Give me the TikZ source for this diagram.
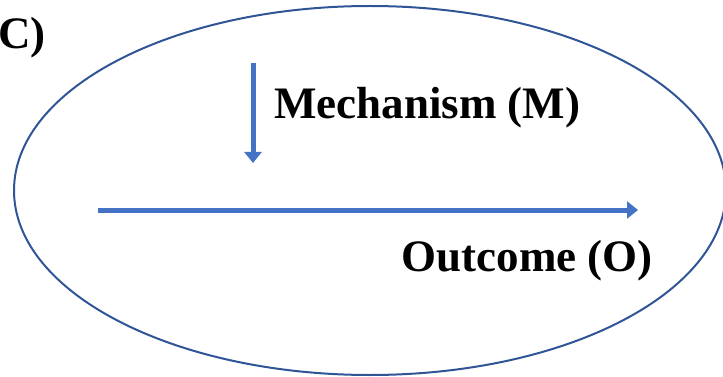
\documentclass[tikz,border=0pt]{standalone}
\usepackage{fontspec}
\setmainfont{Liberation Serif}
\usetikzlibrary{arrows.meta}
\definecolor{ringblue}{HTML}{2F5597}
\definecolor{arrowblue}{HTML}{4472C4}
\tikzset{
  lbl/.style={font=\bfseries\fontsize{45}{48}\selectfont, inner sep=0pt, text=black},
  flow/.style={draw=arrowblue, line width=5pt, -{Triangle[width=17pt,length=11pt]}}
}
\begin{document}
\begin{tikzpicture}[x=1pt,y=-1pt]
\useasboundingbox (0,0) rectangle (723,377);
\clip (0,0) rectangle (723,377);
\draw[ringblue, line width=2pt] (370,190.5) ellipse [x radius=356, y radius=184.5];
\node[lbl, anchor=east] (ctx) at (46,38) {(C)};
\coordinate (ms) at (253,63);
\coordinate (me) at (253,163);
\draw[flow] (ms) -- (me);
\node[lbl, anchor=west] (mech) at (274,108) {Mechanism (M)};
\coordinate (os) at (98,210);
\coordinate (oe) at (638,210);
\draw[flow] (os) -- (oe);
\node[lbl, anchor=east] (out) at (653,261) {Outcome (O)};
\end{tikzpicture}
\end{document}
